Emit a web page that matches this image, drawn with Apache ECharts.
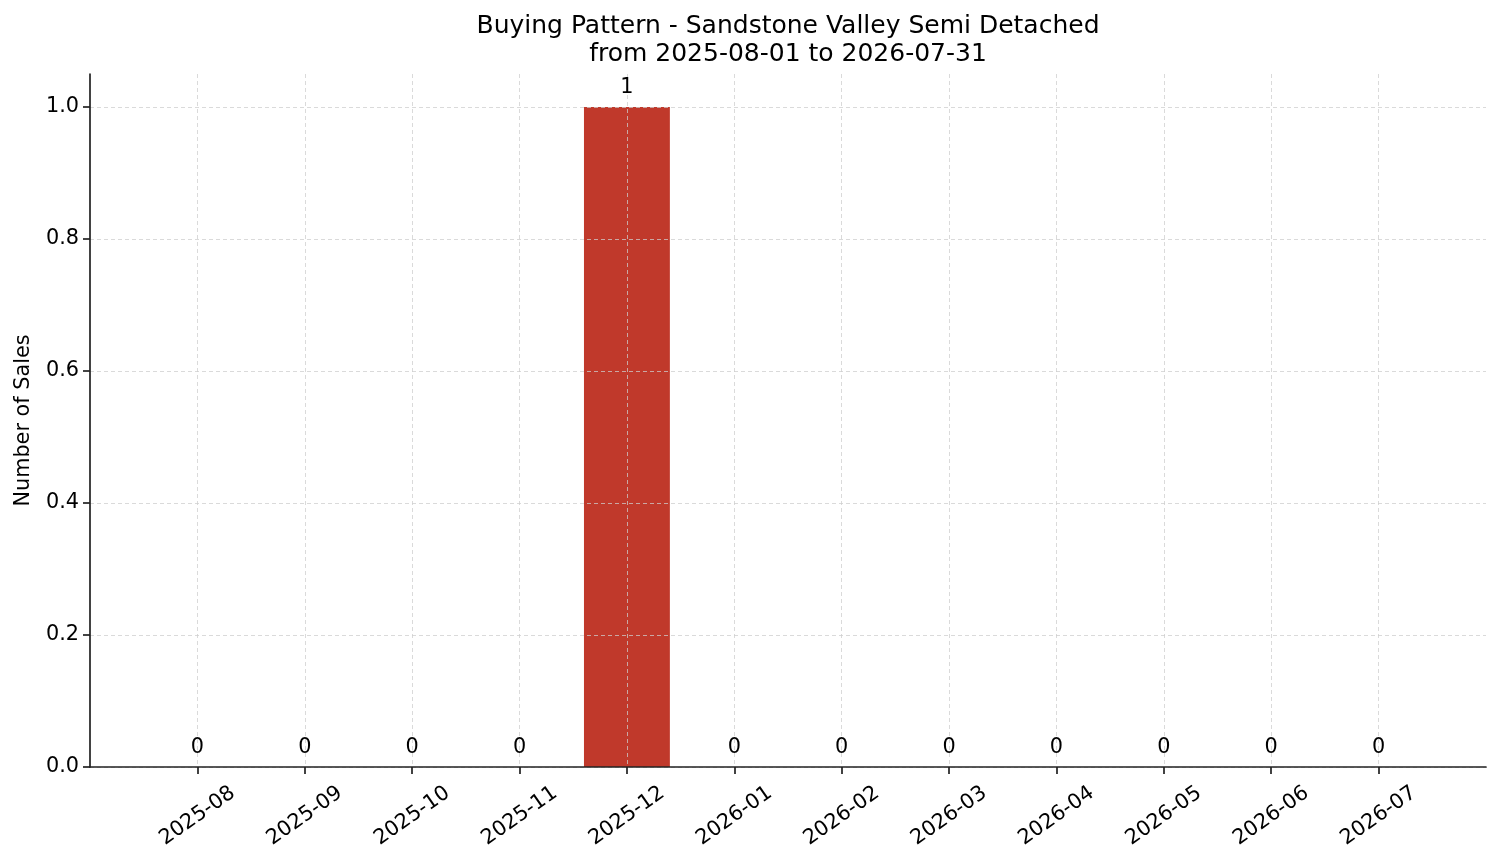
<!DOCTYPE html>
<html>
<head>
<meta charset="utf-8">
<script src="https://cdn.jsdelivr.net/npm/echarts@6/dist/echarts.min.js"></script>
<style>
  html, body { margin: 0; padding: 0; background: #fff; }
  #chart { width: 1501px; height: 863px; }
</style>
</head>
<body>
<div id="chart"></div>
<script>
// months shown on the x axis
var months = ['2025-08', '2025-09', '2025-10', '2025-11', '2025-12', '2026-01',
              '2026-02', '2026-03', '2026-04', '2026-05', '2026-06', '2026-07'];
// number of sales per month
var sales = [0, 0, 0, 0, 1, 0, 0, 0, 0, 0, 0, 0];
// y tick values
var yTicks = [0, 0.2, 0.4, 0.6, 0.8, 1.0];

var font = 'DejaVu Sans';
var ink = '#222';
var gridLine = 'rgba(205,205,205,0.75)';

// one empty slot each side, like matplotlib's margin around the bars
var cats = [''].concat(months, ['']);
var vals = ['-'].concat(sales, ['-']);
var isMonth = function (i, v) { return v !== ''; };

var chart = echarts.init(document.getElementById('chart'));
chart.setOption({
  animation: false,
  backgroundColor: '#fff',
  title: {
    text: 'Buying Pattern - Sandstone Valley Semi Detached\nfrom 2025-08-01 to 2026-07-31',
    left: 788, top: 12, padding: 0,
    textAlign: 'center',
    textStyle: { fontFamily: font, fontSize: 25, fontWeight: 'normal', color: '#000', lineHeight: 28 }
  },
  grid: { left: 90, right: 15, top: 74, bottom: 96, containLabel: false, outerBoundsMode: 'none' },
  xAxis: {
    type: 'category',
    data: cats,
    boundaryGap: false,
    z: 3,
    axisLine: { lineStyle: { color: ink, width: 1.7 } },
    axisTick: { interval: isMonth, length: 7, lineStyle: { color: ink, width: 1.7 } },
    axisLabel: {
      interval: isMonth,
      rotate: 35,
      align: 'center',
      verticalAlign: 'middle',
      margin: 49,
      fontFamily: font, fontSize: 20.8, color: '#000'
    },
    splitLine: { show: true, interval: isMonth, lineStyle: { color: gridLine, width: 1, type: [4, 3] } }
  },
  yAxis: {
    type: 'value',
    min: 0, max: 1.05, interval: 0.2,
    z: 3,
    name: 'Number of Sales',
    nameLocation: 'middle',
    nameRotate: 90,
    nameGap: 56,
    nameTextStyle: { fontFamily: font, fontSize: 20.8, color: '#000' },
    axisLine: { show: true, lineStyle: { color: ink, width: 1.7 } },
    axisTick: { show: true, length: 7, customValues: yTicks, lineStyle: { color: ink, width: 1.7 } },
    axisLabel: {
      customValues: yTicks,
      margin: 11,
      fontFamily: font, fontSize: 20.8, color: '#000',
      formatter: function (v) { return v.toFixed(1); }
    },
    splitLine: { show: true, lineStyle: { color: gridLine, width: 1, type: [4, 3] } }
  },
  series: [{
    // the bars, under the grid lines
    type: 'bar',
    data: vals,
    barCategoryGap: '20%',
    itemStyle: { color: '#c0392b' },
    z: 2
  }, {
    // same values again, only for the count labels above the grid lines
    type: 'bar',
    data: vals,
    barCategoryGap: '20%',
    barGap: '-100%',
    itemStyle: { color: 'rgba(0,0,0,0)' },
    z: 4,
    label: {
      show: true,
      position: 'top',
      distance: 9,
      fontFamily: font, fontSize: 20.8, color: '#000'
    }
  }]
});
</script>
</body>
</html>
